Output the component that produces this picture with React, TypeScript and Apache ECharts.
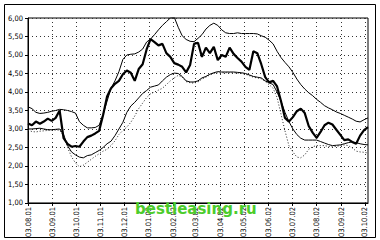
import React, { useEffect, useRef } from "react";
import * as echarts from "echarts";

// Daily calendar categories starting 03.08.01
const START_UTC = Date.UTC(2001, 7, 3);
const DAY_COUNT = 431;
const STEP_DAYS = 5;

const MONTH_LABELS = [
  "03.08.01", "03.09.01", "03.10.01", "03.11.01", "03.12.01",
  "03.01.02", "03.02.02", "03.03.02", "03.04.02", "03.05.02",
  "03.06.02", "03.07.02", "03.08.02", "03.09.02", "03.10.02",
];

const Y_MIN = 1;
const Y_MAX = 6;
const Y_STEP = 0.5;

const PRICE = [
  3.15, 3.1, 3.2, 3.14, 3.2, 3.28, 3.22, 3.3, 3.5, 2.75,
  2.6, 2.52, 2.54, 2.52, 2.66, 2.78, 2.82, 2.88, 2.95, 3.38,
  3.88, 4.1, 4.22, 4.3, 4.48, 4.58, 4.52, 4.3, 4.62, 4.75,
  5.15, 5.43, 5.35, 5.26, 5.3, 5.05, 4.95, 4.78, 4.74, 4.68,
  4.53, 4.73, 5.3, 5.33, 4.95, 5.2, 5.05, 5.22, 4.86, 5.0,
  4.95, 5.2, 5.03, 4.92, 4.82, 4.68, 4.6, 5.1, 5.05, 4.75,
  4.4, 4.26, 4.3, 4.15, 3.75, 3.3, 3.2, 3.32, 3.48, 3.55,
  3.43, 3.08, 2.9, 2.76, 2.92, 3.1, 3.17, 3.12, 2.98, 2.84,
  2.7, 2.72, 2.65, 2.6, 2.82, 2.97, 3.05,
];

const UPPER = [
  3.6, 3.55, 3.45, 3.42, 3.43, 3.45, 3.48, 3.5, 3.53, 3.52,
  3.5, 3.47, 3.43, 3.2, 3.1, 3.03, 3.03, 3.04, 3.1, 3.4,
  3.75, 4.1, 4.3, 4.55, 4.88, 5.0, 5.02, 5.03, 5.08, 5.16,
  5.35, 5.43, 5.55, 5.68, 5.8, 5.9, 6.0, 6.02, 5.75, 5.52,
  5.42, 5.37, 5.36, 5.45, 5.55, 5.7, 5.8, 5.86, 5.8, 5.68,
  5.6, 5.58, 5.58, 5.6, 5.58, 5.58, 5.58, 5.58, 5.57, 5.52,
  5.48, 5.4, 5.3, 5.1, 4.93, 4.8, 4.68, 4.53, 4.35, 4.2,
  4.08, 3.98, 3.9, 3.8, 3.72, 3.63, 3.57, 3.52, 3.46, 3.42,
  3.37, 3.32, 3.27, 3.21, 3.19, 3.25, 3.3,
];

const LOWER = [
  3.0, 3.0, 3.01, 3.02, 3.0, 2.98, 2.98, 2.99, 3.0, 2.85,
  2.55, 2.38, 2.3, 2.24, 2.22, 2.28, 2.3, 2.36, 2.42, 2.5,
  2.6, 2.67, 2.82, 3.0, 3.18, 3.45, 3.62, 3.72, 3.84, 3.96,
  4.04, 4.13, 4.16, 4.19, 4.3, 4.4, 4.47, 4.51, 4.5, 4.42,
  4.3, 4.27, 4.27, 4.3, 4.38, 4.42, 4.48, 4.52, 4.55, 4.54,
  4.54, 4.54, 4.54, 4.53, 4.52, 4.5, 4.46, 4.42, 4.4, 4.38,
  4.3, 4.25, 4.2, 4.0, 3.75, 3.45, 3.2, 3.0, 2.85, 2.75,
  2.7, 2.7, 2.7, 2.7, 2.66, 2.62, 2.58, 2.55, 2.56, 2.57,
  2.6, 2.63, 2.65, 2.63, 2.6, 2.58, 2.57,
];

const LOWER_DOTTED = [
  2.97, 2.93, 2.92, 2.94, 2.95, 2.96, 2.97, 2.97, 2.97, 2.8,
  2.5, 2.25, 2.08, 1.98, 2.02, 2.1, 2.18, 2.26, 2.33, 2.4,
  2.45, 2.55, 2.68, 2.85, 2.96, 3.05, 3.18, 3.35, 3.55, 3.7,
  3.85, 3.95, 4.0, 4.05, 4.1, 4.2, 4.3, 4.38, 4.45, 4.4,
  4.28, 4.25, 4.24, 4.27, 4.35, 4.4, 4.46, 4.5, 4.52, 4.52,
  4.52, 4.52, 4.52, 4.51, 4.5, 4.48, 4.44, 4.4, 4.38, 4.36,
  4.28, 4.2, 4.1, 3.85, 3.4, 2.95, 2.55, 2.38, 2.24, 2.22,
  2.3, 2.45, 2.52, 2.55, 2.55, 2.55, 2.53, 2.52, 2.53, 2.55,
  2.57, 2.55, 2.49, 2.4, 2.38, 2.37, 2.35,
];

function fmtDay(t: number): string {
  const d = new Date(t);
  const dd = String(d.getUTCDate()).padStart(2, "0");
  const mm = String(d.getUTCMonth() + 1).padStart(2, "0");
  const yy = String(d.getUTCFullYear() % 100).padStart(2, "0");
  return `${dd}.${mm}.${yy}`;
}

const DAYS: string[] = Array.from({ length: DAY_COUNT }, (_, i) =>
  fmtDay(START_UTC + i * 86400000)
);

const pairs = (vals: number[]) =>
  vals.map((v, i) => [DAYS[i * STEP_DAYS], v]);

const isMonth = (_i: number, v: string) => MONTH_LABELS.indexOf(v) >= 0;

const FONT = "'Liberation Sans Narrow', 'DejaVu Sans Condensed', 'Liberation Sans', sans-serif";
const GRID_LINE = { color: "#333", width: 1, type: [1, 3] as number[] };

export default function App() {
  const ref = useRef<HTMLDivElement>(null);

  useEffect(() => {
    if (!ref.current) return;
    const chart = echarts.init(ref.current, undefined, { renderer: "svg" });
    chart.setOption({
      animation: false,
      backgroundColor: "#fff",
      grid: {
        left: 28,
        top: 18,
        right: 12,
        bottom: 37,
        show: true,
        borderColor: "#000",
        borderWidth: 1,
        backgroundColor: "transparent",
      },
      xAxis: {
        type: "category",
        data: DAYS,
        boundaryGap: false,
        axisLine: { show: true, lineStyle: { color: "#000", width: 1 } },
        axisTick: {
          show: true,
          interval: isMonth,
          length: 3,
          lineStyle: { color: "#000" },
        },
        axisLabel: {
          interval: isMonth,
          rotate: 90,
          fontSize: 7.5,
          fontFamily: FONT,
          color: "#000",
          margin: 4,
        },
        splitLine: { show: true, interval: isMonth, lineStyle: GRID_LINE },
      },
      yAxis: {
        type: "value",
        min: Y_MIN,
        max: Y_MAX,
        interval: Y_STEP,
        axisLine: { show: true, lineStyle: { color: "#000", width: 1 } },
        axisTick: { show: true, length: 3, lineStyle: { color: "#000" } },
        axisLabel: {
          fontSize: 7.5,
          fontFamily: FONT,
          color: "#000",
          margin: 5,
          formatter: (v: number) => v.toFixed(2).replace(".", ","),
        },
        splitLine: { show: true, lineStyle: GRID_LINE },
      },
      graphic: [
        {
          type: "rect",
          shape: { x: 4.5, y: 4.5, width: 371, height: 233 },
          style: { fill: "none", stroke: "#000", lineWidth: 1 },
          silent: true,
          z: 1,
        },
        {
          type: "text",
          x: 135,
          y: 201,
          z: 100,
          style: {
            text: "bestleasing.ru",
            fill: "#4ccc2c",
            font: "bold 15px 'DejaVu Sans', sans-serif",
            verticalAlign: "top",
          },
        },
      ],
      series: [
        {
          type: "line",
          data: pairs(LOWER_DOTTED),
          showSymbol: false,
          symbol: "none",
          lineStyle: { color: "#222", width: 1, type: [1, 2] },
          z: 2,
        },
        {
          type: "line",
          data: pairs(LOWER),
          showSymbol: false,
          symbol: "none",
          lineStyle: { color: "#000", width: 1 },
          z: 3,
        },
        {
          type: "line",
          data: pairs(UPPER),
          showSymbol: false,
          symbol: "none",
          lineStyle: { color: "#000", width: 1 },
          z: 3,
        },
        {
          type: "line",
          data: pairs(PRICE),
          showSymbol: false,
          symbol: "none",
          lineStyle: { color: "#000", width: 2.2 },
          z: 4,
        },
      ],
    });
    return () => chart.dispose();
  }, []);

  return (
    <div
      ref={ref}
      style={{
        position: "fixed",
        left: 0,
        top: 0,
        width: 380,
        height: 240,
        background: "#fff",
      }}
    />
  );
}
